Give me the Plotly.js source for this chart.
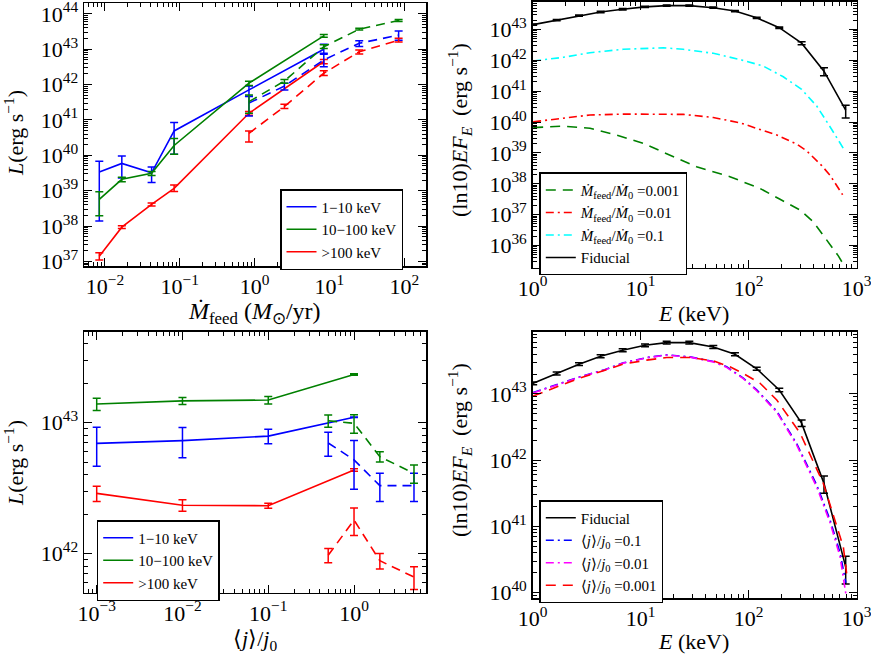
<!DOCTYPE html>
<html><head><meta charset="utf-8">
<script src="https://cdn.plot.ly/plotly-3.0.1.min.js"></script>
<style>html,body{margin:0;padding:0;background:#fff}#chart{width:871px;height:654px}</style>
</head><body><div id="chart"></div>
<script>
// ---------- Panel 1: L vs Mdot_feed ----------
const mdotSolid  = [0.0084, 0.0168, 0.042, 0.084, 0.84, 8.4];
const mdotDashed = [0.84, 2.5, 8.4, 25, 84];
const p1BlueS   = [3.4e39, 5.9e39, 3.2e39, 4.9e40, 7.1e41, 1.0e43];
const p1BlueSHi = [6.8e39, 9.5e39, 4.7e39, 8.5e40, 9.1e41, 1.38e43];
const p1BlueSLo = [1.4e38, 2.3e39, 1.7e39, 1.07e40, 4.6e41, 7.7e42];
const p1GreenS   = [5.7e38, 2.1e39, 3.1e39, 1.9e40, 1.1e42, 2.4e43];
const p1GreenSHi = [9.4e38, 2.4e39, 3.5e39, 3.0e40, 1.25e42, 2.6e43];
const p1GreenSLo = [1.95e38, 1.8e39, 2.7e39, 1.07e40, 0.95e42, 2.2e43];
const p1RedS   = [1.4e37, 9.3e37, 4.1e38, 1.17e39, 1.55e41, 4.5e42];
const p1RedSHi = [1.75e37, 1.02e38, 4.5e38, 1.45e39, 1.75e41, 5.1e42];
const p1RedSLo = [1.1e37, 8.5e37, 3.7e38, 0.95e39, 1.35e41, 3.9e42];
const p1GreenD   = [3.3e41, 1.26e42, 1.18e43, 3.7e43, 6.5e43];
const p1GreenDHi = [5.1e41, 1.4e42, 1.35e43, 3.9e43, 6.9e43];
const p1GreenDLo = [1.55e41, 1.1e42, 1.05e43, 3.5e43, 6.1e43];
const p1BlueD   = [3.0e41, 9.1e41, 5.0e42, 1.48e43, 2.5e43];
const p1BlueDHi = [4.7e41, 1.1e42, 7.2e42, 1.75e43, 3.3e43];
const p1BlueDLo = [1.3e41, 7.0e41, 3.2e42, 1.2e43, 1.8e43];
const p1RedD   = [4.2e40, 2.4e41, 2.1e42, 8.5e42, 1.8e43];
const p1RedDHi = [4.9e40, 2.8e41, 2.45e42, 9.6e42, 2.05e43];
const p1RedDLo = [2.4e40, 2.1e41, 1.8e42, 7.4e42, 1.6e43];

// ---------- Panel 3: L vs <j>/j0 ----------
const jSolid  = [0.001, 0.01, 0.1, 1];
const jDashed = [0.5, 1, 2, 5];
const p3GreenS = [1.39e43, 1.47e43, 1.49e43, 2.34e43];
const p3GreenSErr = [0.15e43, 0.09e43, 0.10e43, 0.03e43];
const p3BlueS = [6.95e42, 7.3e42, 7.9e42, 1.1e43];
const p3BlueSErr = [2.3e42, 1.9e42, 1.0e42, 0.05e42];
const p3RedS = [2.88e42, 2.34e42, 2.32e42, 4.35e42];
const p3RedSErr = [0.38e42, 0.24e42, 0.1e42, 0.1e42];
const p3GreenD = [1.035e43, 9.9e42, 5.5e42, 4.1e42];
const p3GreenDErr = [0.11e43, 1.6e42, 0.5e42, 0.65e42];
const p3BlueD = [7.0e42, 5.2e42, 3.3e42, 3.3e42];
const p3BlueDErr = [1.45e42, 2.1e42, 0.8e42, 0.8e42];
const p3RedD = [0.97e42, 1.8e42, 8.8e41, 6.6e41];
const p3RedDErr = [0.12e42, 0.43e42, 1.2e41, 1.3e41];

// ---------- Fiducial spectrum (panels 2 and 4) ----------
const eFid = [1.01, 1.667, 2.685, 4.256, 6.81, 10.96, 17.4, 28.2, 47.0, 74.6, 118.6, 191.9, 309, 497.7, 790.7];
const lFid = [1.45e43, 2.04e43, 2.82e43, 3.72e43, 4.57e43, 5.43e43, 5.96e43, 5.96e43, 5.13e43, 3.98e43, 2.40e43, 1.15e43, 3.63e42, 4.47e41, 2.45e40];
const lFidErr = [0.07e43, 0.1e43, 0.14e43, 0.19e43, 0.23e43, 0.27e43, 0.3e43, 0.3e43, 0.26e43, 0.2e43, 0.12e43, 0.07e43, 0.4e42, 1.3e41, 1.1e40];

// ---------- Panel 2 ----------
const eM01 = [1.01, 1.92, 3.39, 6.9, 16.2, 24.8, 47.0, 83.0, 136, 209, 309, 427, 566, 752];
const lM01 = [9.55e41, 1.26e42, 1.78e42, 2.29e42, 2.57e42, 2.29e42, 1.70e42, 1.07e42, 6.6e41, 2.95e41, 1.15e41, 3.3e40, 7.1e39, 1.41e39];
const eM001 = [1.01, 1.92, 3.39, 6.9, 16.2, 24.8, 47.0, 83.0, 182, 278, 344, 474, 566, 653, 741];
const lM001 = [1.02e40, 1.32e40, 1.70e40, 1.82e40, 1.82e40, 1.78e40, 1.41e40, 9.5e39, 3.8e39, 1.95e39, 1.17e39, 3.9e38, 1.9e38, 9.1e37, 4.4e37];
const eM0001 = [1.01, 1.92, 3.39, 5.98, 10.57, 18.6, 32.9, 67.0, 127, 195, 299, 396, 525, 676, 776];
const lM0001 = [6.6e39, 7.4e39, 6.3e39, 3.8e39, 2.04e39, 8.5e38, 3.55e38, 1.7e38, 7.1e37, 3.16e37, 1.41e37, 5.9e36, 1.51e36, 4.6e35, 2.04e35];

// ---------- Panel 4 ----------
const eJ = [1.01, 1.67, 2.74, 4.51, 6.9, 11.35, 17.4, 28.6, 47.0, 62.5, 89.1, 118.6, 182, 278, 427, 566, 701, 794];
const lJ01  = [1.05e43, 1.38e43, 1.82e43, 2.29e43, 2.95e43, 3.55e43, 3.89e43, 3.63e43, 3.09e43, 2.57e43, 1.74e43, 1.15e43, 5.5e42, 1.78e42, 4.2e41, 1.26e41, 4.0e40, 1.41e40];
const lJ001 = [1.03e43, 1.36e43, 1.80e43, 2.27e43, 2.92e43, 3.52e43, 3.86e43, 3.60e43, 3.05e43, 2.52e43, 1.70e43, 1.12e43, 5.3e42, 1.70e42, 3.9e41, 1.15e41, 3.5e40, 9.5e39];
const eJ0001 = [1.01, 1.67, 2.74, 4.51, 6.9, 11.35, 17.4, 28.6, 47.0, 67.0, 89.1, 127.4, 182, 299, 490, 752, 807];
const lJ0001 = [9.3e42, 1.29e43, 1.74e43, 2.24e43, 2.82e43, 3.24e43, 3.55e43, 3.55e43, 3.16e43, 2.57e43, 2.04e43, 1.45e43, 8.1e42, 2.57e42, 4.5e41, 4.9e40, 1.95e40];

// ---------- helpers ----------
const FONT = 'Liberation Serif, Times New Roman, serif';
const DASH = '9px,6px';
const DASHDOT = '8px,4px,2px,4px';
function ebBounds(v, hi, lo, color) {
  return {type:'data', symmetric:false, array: hi.map((h,i)=>h-v[i]), arrayminus: v.map((x,i)=>x-lo[i]), color:color, thickness:1.5, width:4};
}
function ebSym(err, color) {
  return {type:'data', array: err, color:color, thickness:1.5, width:4};
}
function tr(x, y, color, dash, xa, ya, name, legend, show, err) {
  const t = {type:'scatter', mode:'lines', x:x, y:y, name:name||' ', xaxis:xa, yaxis:ya,
    line:{color:color, width:1.6, dash:dash}, showlegend: !!show, hoverinfo:'skip'};
  if (legend) t.legend = legend;
  if (err) t.error_y = err;
  return t;
}
const traces = [
  // panel 1
  tr(mdotSolid, p1BlueS, 'blue', 'solid', 'x', 'y', '1−10 keV', 'legend', true, ebBounds(p1BlueS, p1BlueSHi, p1BlueSLo, 'blue')),
  tr(mdotSolid, p1GreenS, 'green', 'solid', 'x', 'y', '10−100 keV', 'legend', true, ebBounds(p1GreenS, p1GreenSHi, p1GreenSLo, 'green')),
  tr(mdotSolid, p1RedS, 'red', 'solid', 'x', 'y', '>100 keV', 'legend', true, ebBounds(p1RedS, p1RedSHi, p1RedSLo, 'red')),
  tr(mdotDashed, p1BlueD, 'blue', DASH, 'x', 'y', '', 'legend', false, ebBounds(p1BlueD, p1BlueDHi, p1BlueDLo, 'blue')),
  tr(mdotDashed, p1GreenD, 'green', DASH, 'x', 'y', '', 'legend', false, ebBounds(p1GreenD, p1GreenDHi, p1GreenDLo, 'green')),
  tr(mdotDashed, p1RedD, 'red', DASH, 'x', 'y', '', 'legend', false, ebBounds(p1RedD, p1RedDHi, p1RedDLo, 'red')),
  // panel 2
  tr(eM0001, lM0001, 'green', '10px,7px', 'x2', 'y2', '<i>Ṁ</i><sub>feed</sub>/<i>Ṁ</i><sub>0</sub> =0.001', 'legend2', true),
  tr(eM001, lM001, 'red', DASHDOT, 'x2', 'y2', '<i>Ṁ</i><sub>feed</sub>/<i>Ṁ</i><sub>0</sub> =0.01', 'legend2', true),
  tr(eM01, lM01, 'cyan', DASHDOT, 'x2', 'y2', '<i>Ṁ</i><sub>feed</sub>/<i>Ṁ</i><sub>0</sub> =0.1', 'legend2', true),
  tr(eFid, lFid, 'black', 'solid', 'x2', 'y2', 'Fiducial', 'legend2', true, ebSym(lFidErr, 'black')),
  // panel 3
  tr(jSolid, p3BlueS, 'blue', 'solid', 'x3', 'y3', '1−10 keV', 'legend3', true, ebSym(p3BlueSErr, 'blue')),
  tr(jSolid, p3GreenS, 'green', 'solid', 'x3', 'y3', '10−100 keV', 'legend3', true, ebSym(p3GreenSErr, 'green')),
  tr(jSolid, p3RedS, 'red', 'solid', 'x3', 'y3', '>100 keV', 'legend3', true, ebSym(p3RedSErr, 'red')),
  tr(jDashed, p3BlueD, 'blue', DASH, 'x3', 'y3', '', 'legend3', false, ebSym(p3BlueDErr, 'blue')),
  tr(jDashed, p3GreenD, 'green', DASH, 'x3', 'y3', '', 'legend3', false, ebSym(p3GreenDErr, 'green')),
  tr(jDashed, p3RedD, 'red', DASH, 'x3', 'y3', '', 'legend3', false, ebSym(p3RedDErr, 'red')),
  // panel 4
  tr(eFid, lFid, 'black', 'solid', 'x4', 'y4', 'Fiducial', 'legend4', true, ebSym(lFidErr, 'black')),
  tr(eJ, lJ01, 'blue', DASHDOT, 'x4', 'y4', '⟨<i>j</i>⟩/<i>j</i><sub>0</sub> =0.1', 'legend4', true),
  tr(eJ, lJ001, 'magenta', DASHDOT, 'x4', 'y4', '⟨<i>j</i>⟩/<i>j</i><sub>0</sub> =0.01', 'legend4', true),
  tr(eJ0001, lJ0001, 'red', '10px,7px', 'x4', 'y4', '⟨<i>j</i>⟩/<i>j</i><sub>0</sub> =0.001', 'legend4', true),
];

function majors(a, b) { const v=[], t=[]; for (let n=a;n<=b;n++){ v.push(Math.pow(10,n)); t.push('10<sup>'+(n<0?'−'+(-n):n)+'</sup>'); } return {v,t}; }
function minors(a, b) { const v=[]; for (let n=a;n<=b;n++) for (let m=2;m<=9;m++) v.push(m*Math.pow(10,n)); return v; }
function ax(domain, anchor, range, ma, mb) {
  const M = majors(ma, mb);
  return {domain:domain, anchor:anchor, type:'log', range:range, showline:true, linecolor:'black', linewidth:1.5,
    mirror:'allticks', ticks:'inside', ticklen:8, tickwidth:1, tickcolor:'black', showgrid:false, zeroline:false,
    tickmode:'array', tickvals:M.v, ticktext:M.t, tickfont:{family:FONT, size:22, color:'black'},
    ticklabeloverflow:'allow',
    minor:{ticks:'inside', ticklen:4, tickwidth:1, tickcolor:'black', tickmode:'array', tickvals:minors(ma-1, mb), showgrid:false}};
}
const W=871, H=654;
const dx = (a,b)=>[a/W, b/W];
const dy = (top,bot)=>[1-bot/H, 1-top/H];
function ann(text, px, py, angle, size) {
  return {text:text, x:px/W, y:1-py/H, xref:'paper', yref:'paper', showarrow:false, xanchor:'center', yanchor:'middle',
    textangle:angle||0, font:{family:FONT, size:size||22, color:'black'}};
}
const legStyle = (x, y) => ({x:x/W, y:1-y/H, xanchor:'left', yanchor:'top', bgcolor:'white', bordercolor:'black', borderwidth:1.5,
  font:{family:FONT, size:15, color:'black'}, tracegroupgap:0});

const layout = {
  width:W, height:H, margin:{l:0,r:0,t:0,b:0}, paper_bgcolor:'white', plot_bgcolor:'white',
  xaxis:  ax(dx(84,426), 'y',  [-2.28, 2.29], -2, 2),
  yaxis:  ax(dy(3.3,266), 'x', [36.87, 44.30], 37, 44),
  xaxis2: ax(dx(532.7,856.7), 'y2', [0, 3], 0, 3),
  yaxis2: ax(dy(1.5,267.7), 'x2', [35.28, 43.91], 36, 43),
  xaxis3: ax(dx(84,426), 'y3', [-3.148, 0.839], -3, 0),
  yaxis3: ax(dy(331.7,592.7), 'x3', [41.70, 43.696], 42, 43),
  xaxis4: ax(dx(532.7,856.7), 'y4', [0, 3], 0, 3),
  yaxis4: ax(dy(331.7,598.3), 'x4', [39.915, 43.94], 40, 43),
  legend: legStyle(280, 189),
  legend2: legStyle(539.3, 172.3),
  legend3: legStyle(96.7, 520),
  legend4: legStyle(539.3, 500),
  annotations: [
    ann('<i>Ṁ</i><sub>feed</sub> (<i>M</i><sub>⊙</sub>/yr)', 255, 313, 0, 24),
    ann('<i>L</i>(erg s<sup>−1</sup>)', 14, 133, -90),
    ann('<i>E</i> (keV)', 693, 313),
    ann('(ln10)<i>EF<sub>E</sub></i>  (erg s<sup>−1</sup>)', 459, 130, -90),
    ann('⟨<i>j</i>⟩/<i>j</i><sub>0</sub>', 255, 640),
    ann('<i>L</i>(erg s<sup>−1</sup>)', 14, 463, -90),
    ann('<i>E</i> (keV)', 693, 641),
    ann('(ln10)<i>EF<sub>E</sub></i>  (erg s<sup>−1</sup>)', 459, 450, -90),
  ]
};
Plotly.newPlot('chart', traces, layout, {staticPlot:true, displayModeBar:false});
</script>
</body></html>
